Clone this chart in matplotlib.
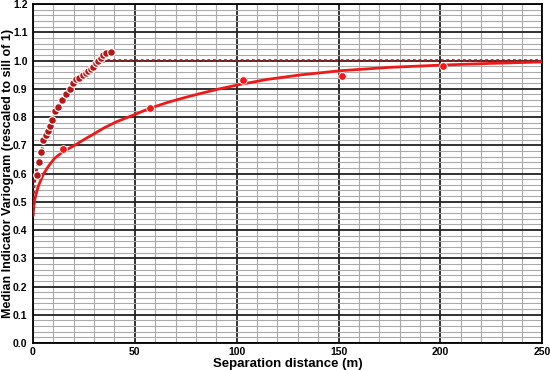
import matplotlib
matplotlib.use("Agg")
import matplotlib.pyplot as plt
from matplotlib.ticker import MultipleLocator

plt.rcParams['font.family'] = ['Liberation Sans', 'DejaVu Sans']
plt.rcParams['font.weight'] = 'bold'

# experimental variogram, short lags (dark red points)
lag_x = [1.8, 3.1, 3.9, 5.1, 6.2, 7.2, 8.3, 9.2, 10.8, 12.4, 14.4, 16.0, 18.2,
         19.8, 21.1, 22.8, 24.7, 26.0, 27.2, 28.4, 29.6, 30.8, 32.0, 33.3,
         34.5, 35.6, 38.3]
lag_y = [0.595, 0.64, 0.677, 0.719, 0.735, 0.75, 0.77, 0.79, 0.82, 0.837, 0.86,
         0.88, 0.90, 0.92, 0.933, 0.94, 0.949, 0.955, 0.964, 0.97, 0.978, 0.99,
         1.0, 1.01, 1.02, 1.025, 1.03]

# short-range model (dotted)
mod1_x = [0, 0.5, 1, 2, 3, 5, 7.5, 10, 12.5, 15, 17.5, 20, 22.5, 25, 27.5, 30,
          32.5, 35, 37, 250]
mod1_y = [0.45, 0.55, 0.59, 0.62, 0.65, 0.70, 0.755, 0.80, 0.84, 0.87, 0.90,
          0.925, 0.945, 0.96, 0.975, 0.985, 0.993, 0.998, 1.0, 1.0]

# experimental variogram, long lags (red points)
long_x = [14.9, 57.5, 103.3, 151.6, 201.2]
long_y = [0.686, 0.832, 0.931, 0.946, 0.981]

# long-range model (solid)
mod2_x = [0, 0.8, 2.5, 4.9, 7.4, 10.6, 14.7, 20.5, 25, 30.3, 35, 40.9, 49.3,
          57, 65.7, 74, 82, 91, 100, 114.8, 131.1, 150.8, 175.3, 200.7, 224.5, 250]
mod2_y = [0.453, 0.506, 0.553, 0.595, 0.624, 0.654, 0.677, 0.70, 0.72, 0.742,
          0.762, 0.783, 0.807, 0.83, 0.851, 0.868, 0.883, 0.899, 0.913, 0.933,
          0.949, 0.964, 0.976, 0.984, 0.990, 0.995]

fig = plt.figure(figsize=(5.5, 3.7), dpi=100)
ax = fig.add_axes([0.06, 0.073, 0.926, 0.916])

ax.plot(mod2_x, mod2_y, color='#f21818', lw=2, zorder=3)
ax.plot(long_x, long_y, 'o', color='#f21818', ms=5.5, mec='white', mew=0.6, zorder=4)
ax.plot(mod1_x, mod1_y, color='#b01818', lw=2, ls=(0, (1, 1)), zorder=3)
ax.plot(lag_x, lag_y, 'o', color='#b81616', ms=5.5, mec='white', mew=0.8, zorder=5)

ax.set_xlim(0, 250)
ax.set_ylim(0, 1.2)
ax.xaxis.set_major_locator(MultipleLocator(50))
ax.xaxis.set_minor_locator(MultipleLocator(10))
ax.yaxis.set_major_locator(MultipleLocator(0.1))
ax.yaxis.set_minor_locator(MultipleLocator(0.02))
ax.grid(which='major', color='#222222', lw=1.3, zorder=1)
ax.grid(which='minor', color='#aaaaaa', lw=0.8, zorder=0)
ax.set_axisbelow(True)
ax.tick_params(which='both', length=0, labelsize=7.5)
ax.tick_params(axis='y', pad=4)
ax.tick_params(axis='x', pad=3)
ax.set_yticklabels([f'{v:.1f}' for v in ax.get_yticks()])
for s in ax.spines.values():
    s.set_linewidth(1.3)

ax.set_xlabel('Separation distance (m)', fontsize=9.5, fontweight='bold')
ax.xaxis.set_label_coords(0.5, -0.045, transform=ax.transAxes)
ax.xaxis.label.set_va('top')
ax.set_ylabel('Median Indicator Variogram (rescaled to sill of 1)', fontsize=9,
              fontweight='bold')
ax.yaxis.set_label_coords(-0.037, 0.5)

fig.savefig('out.png', dpi=100)
